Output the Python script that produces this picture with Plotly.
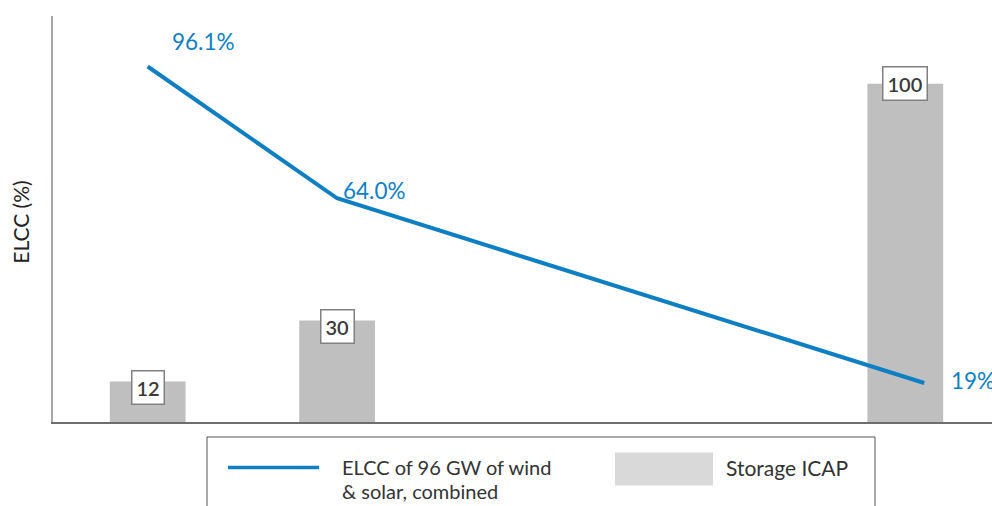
import plotly.graph_objects as go

# ---- data ----
storage_icap_gw = [12, 30, 100]          # bar values / labels
storage_slots = [0, 1, 4]                # category slot on the x axis
elcc_pct = [96.1, 64.0, 19.0]            # ELCC of 96 GW wind & solar
elcc_slots = [0, 1, 4.1]
elcc_labels = ["96.1%", "64.0%", "19%"]
legend_line_text = ["ELCC of 96 GW of wind", "& solar, combined"]
legend_bar_text = "Storage ICAP"
y_title = "ELCC (%)"

# ---- layout geometry (pixels) ----
W, H = 992, 506
ML, MT, MB = 53, 16, 83.5
PW = W - ML
PH = H - MT - MB

def px_x(px):
    return (px - ML) / PW

def px_y(py):
    return (H - MB - py) / PH

BLUE = "#0F7FC4"
BAR = "#BFBFBF"
FONT = "Lato"
TXT = "#333333"

fig = go.Figure()
fig.add_trace(go.Bar(
    x=storage_slots, y=storage_icap_gw, width=0.4,
    marker=dict(color=BAR, line=dict(width=0)),
    name="Storage ICAP", showlegend=False, hoverinfo="skip",
))
fig.add_trace(go.Scatter(
    x=elcc_slots, y=elcc_pct, yaxis="y2", mode="lines",
    line=dict(color=BLUE, width=4),
    name="ELCC", showlegend=False, hoverinfo="skip",
))

annotations = []
# bar value boxes
bar_yshift = [-6, -6, 0]
for s, v, ys in zip(storage_slots, storage_icap_gw, bar_yshift):
    annotations.append(dict(
        x=s, y=v, xref="x", yref="y", text=str(v), showarrow=False,
        yshift=ys, font=dict(family=FONT, size=20, color="#3A3A3A", weight=600),
        bgcolor="white", bordercolor="#808080", borderwidth=1.5, borderpad=4,
    ))
# line labels
lab_shift = [(22, 25), (4, 8), (25, 3)]
for s, v, t, (xs, ys) in zip(elcc_slots, elcc_pct, elcc_labels, lab_shift):
    annotations.append(dict(
        x=s, y=v, xref="x", yref="y2", text=t, showarrow=False,
        xanchor="left", yanchor="middle", xshift=xs, yshift=ys,
        font=dict(family=FONT, size=22.5, color=BLUE),
    ))
# y axis title
annotations.append(dict(
    x=0, y=px_y(223), xref="paper", yref="paper", xshift=-32, text=y_title,
    textangle=-90, showarrow=False, xanchor="center", yanchor="middle",
    font=dict(family=FONT, size=21, color="#222222"),
))
# legend texts
for txt, py in zip(legend_line_text, [468, 492]):
    annotations.append(dict(
        x=px_x(340), y=px_y(py), xref="paper", yref="paper", text=txt,
        showarrow=False, xanchor="left", yanchor="middle",
        font=dict(family=FONT, size=20, color=TXT),
    ))
annotations.append(dict(
    x=px_x(724), y=px_y(468), xref="paper", yref="paper", text=legend_bar_text,
    showarrow=False, xanchor="left", yanchor="middle",
    font=dict(family=FONT, size=21, color=TXT),
))

shapes = [
    # legend frame
    dict(type="rect", xref="paper", yref="paper",
         x0=px_x(207), x1=px_x(875), y0=px_y(540), y1=px_y(437.5),
         line=dict(color="#555555", width=1), fillcolor="rgba(0,0,0,0)"),
    # legend line sample
    dict(type="line", xref="paper", yref="paper",
         x0=px_x(228), x1=px_x(319), y0=px_y(468), y1=px_y(468),
         line=dict(color=BLUE, width=3.5)),
    # legend bar sample
    dict(type="rect", xref="paper", yref="paper",
         x0=px_x(615), x1=px_x(713), y0=px_y(486), y1=px_y(453),
         line=dict(width=0), fillcolor="#D9D9D9"),
]

fig.update_layout(
    width=W, height=H,
    margin=dict(l=ML, r=0, t=MT, b=MB),
    paper_bgcolor="white", plot_bgcolor="white",
    font=dict(family=FONT),
    showlegend=False,
    hovermode=False,
    xaxis=dict(range=[-0.5, -0.5 + PW / 189.4], showgrid=False, zeroline=False,
               showticklabels=False, ticks="", showline=True,
               linecolor="#6E6E6E", linewidth=1.5),
    yaxis=dict(range=[0, 120], showgrid=False, zeroline=False,
               showticklabels=False, ticks="", showline=True,
               linecolor="#A6A6A6", linewidth=2),
    yaxis2=dict(range=[9.5, 108.4], overlaying="y", side="right",
                showgrid=False, zeroline=False, showticklabels=False,
                ticks="", showline=False),
    annotations=annotations,
    shapes=shapes,
)

fig.write_html(
    "out.html",
    config={"displayModeBar": False},
    post_script="document.body.style.margin='0';document.body.style.overflow='hidden';",
)
